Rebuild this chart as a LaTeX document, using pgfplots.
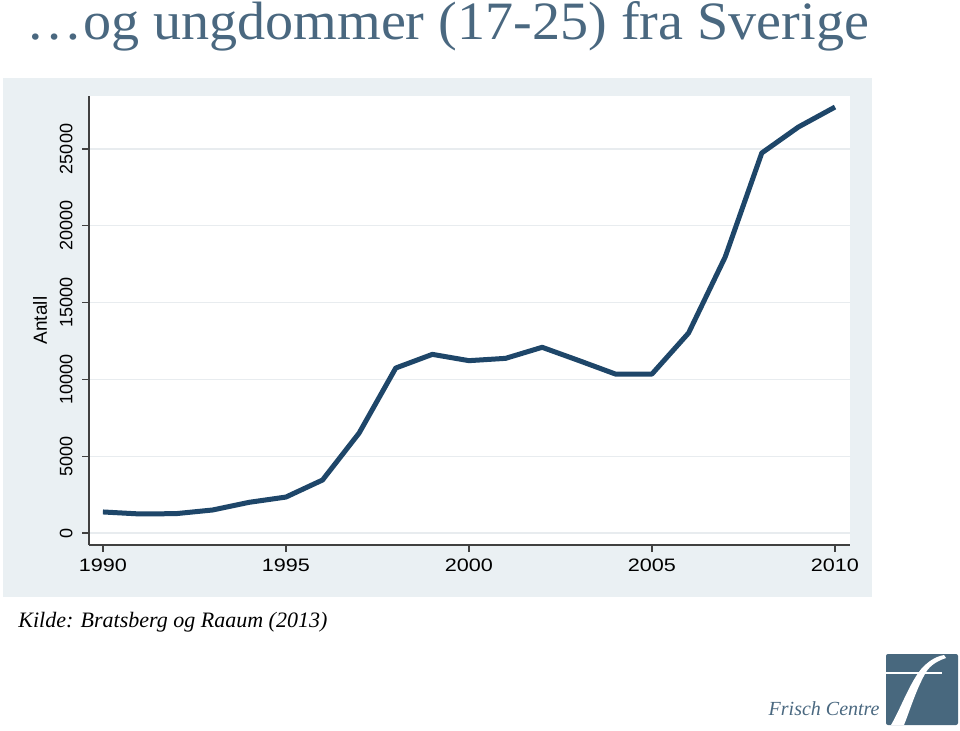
\documentclass[border=0pt]{standalone}
\usepackage{pgfplots}
\pgfplotsset{compat=1.18}
\usepackage{fontspec}
\setmainfont{Liberation Serif}
\newfontfamily\arialfont{Liberation Sans}
\definecolor{panelbg}{RGB}{234,240,243}
\definecolor{titleblue}{RGB}{74,104,128}
\definecolor{linecol}{RGB}{30,70,105}
\definecolor{gridcol}{RGB}{232,236,239}
\definecolor{logoblue}{RGB}{72,104,126}

\begin{document}
\begin{tikzpicture}
% 1 px of the reference = 0.5pt, y measured from the bottom
\path[use as bounding box] (0,0) rectangle (480pt,365pt);
\fill[panelbg] (1.5pt,66.5pt) rectangle (436pt,326pt);
\node[anchor=base, text=titleblue, font=\fontsize{27}{31}\selectfont, inner sep=0pt]
  at (224pt,345pt) {\scalebox{1.04}[1]{…og ungdommer (17-25) fra Sverige}};

\begin{axis}[
  at={(44.5pt,92.5pt)}, anchor=south west,
  scale only axis, width=380.5pt, height=224.5pt,
  xmin=1989.62, xmax=2010.41, ymin=-781, ymax=28450,
  axis background/.style={fill=white},
  axis lines=left, axis line style={-, draw=black!75, line width=0.6pt},
  xtick={1990,1995,...,2010}, ytick={0,5000,...,25000},
  tick align=outside, major tick length=3.5pt,
  tick style={black!75, line width=0.6pt},
  ymajorgrids, grid style={gridcol, line width=0.7pt},
  /pgf/number format/1000 sep={}, /pgf/number format/assume math mode=true,
  scaled y ticks=false,
  ticklabel style={font=\arialfont\fontsize{9}{10}\selectfont},
  xticklabel={\scalebox{1.2}[1]{\pgfmathprintnumber{\tick}}},
  yticklabel style={rotate=90, anchor=south, inner ysep=4.5pt},
  ylabel={Antall},
  every axis y label/.style={at={(axis description cs:-0.0644,0.5)}, anchor=center, rotate=90, font=\arialfont\fontsize{9.5}{11}\selectfont},
]
\addplot[linecol, line width=2.5pt, line join=round] coordinates {
  (1990,1370) (1991,1240) (1992,1260) (1993,1500) (1994,2000)
  (1995,2340) (1996,3450) (1997,6510) (1998,10740) (1999,11630)
  (2000,11220) (2001,11370) (2002,12090) (2003,11230) (2004,10350)
  (2005,10350) (2006,13020) (2007,17970) (2008,24740) (2009,26430)
  (2010,27730)
};
\end{axis}

\node[anchor=base west, font=\itshape\fontsize{11}{13}\selectfont, inner sep=0pt]
  at (9pt,51.5pt) {Kilde: Bratsberg og Raaum (2013)};
\node[anchor=base east, text=titleblue, font=\itshape\fontsize{10}{12}\selectfont, inner sep=0pt]
  at (440pt,7.5pt) {Frisch Centre};
% logo
\fill[logoblue, rounded corners=1pt] (443pt,2.5pt) rectangle (479pt,38pt);
\fill[white] (445.5pt,2.5pt) .. controls (450pt,10pt) and (455pt,24pt) .. (461pt,31pt)
  .. controls (464pt,34pt) and (467pt,36.5pt) .. (472pt,37.5pt)
  -- (473pt,36pt) .. controls (467pt,34pt) and (464pt,31pt) .. (462.5pt,28pt)
  .. controls (458pt,20pt) and (455pt,10pt) .. (452pt,2.5pt) -- cycle;
\fill[white] (443pt,28.2pt) rectangle (471pt,29.2pt);
\end{tikzpicture}
\end{document}
